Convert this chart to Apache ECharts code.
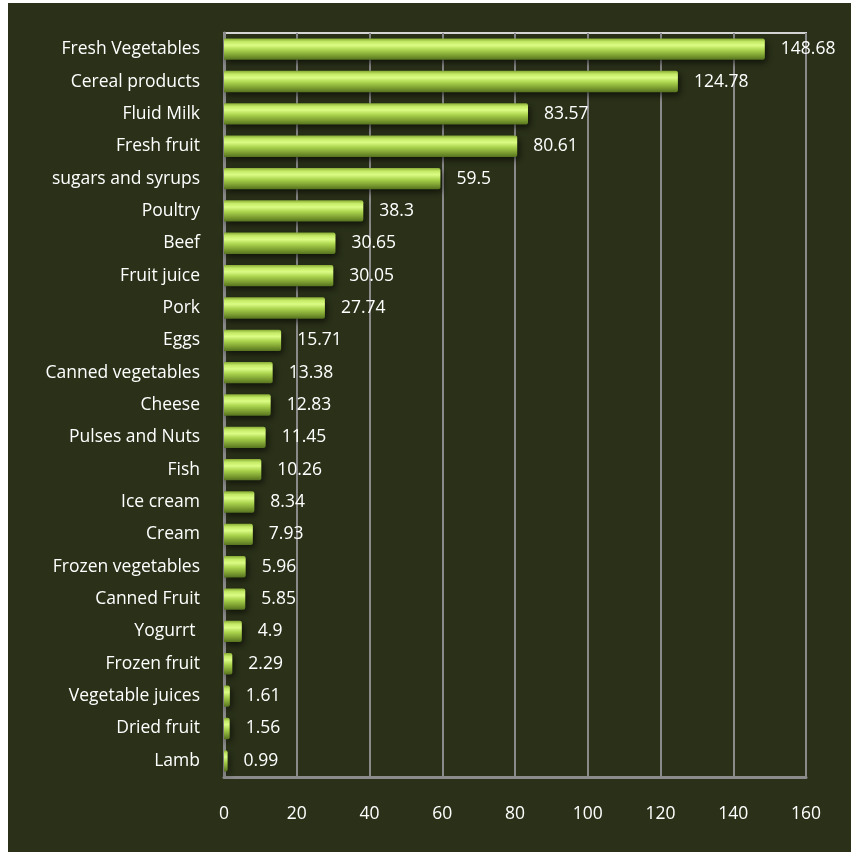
<!DOCTYPE html>
<html>
<head>
<meta charset="utf-8">
<style>
  html, body { margin: 0; padding: 0; background: #ffffff; }
  #chart { position: absolute; left: 8px; top: 3px; width: 843px; height: 849px; }
</style>
<script src="https://cdn.jsdelivr.net/npm/echarts@6/dist/echarts.min.js"></script>
</head>
<body>
<div id="chart"></div>
<script>
// Per-capita food consumption by category
const categories = [
  'Fresh Vegetables', 'Cereal products', 'Fluid Milk', 'Fresh fruit', 'sugars and syrups',
  'Poultry', 'Beef', 'Fruit juice', 'Pork', 'Eggs', 'Canned vegetables', 'Cheese',
  'Pulses and Nuts', 'Fish', 'Ice cream', 'Cream', 'Frozen vegetables', 'Canned Fruit',
  'Yogurrt ', 'Frozen fruit', 'Vegetable juices', 'Dried fruit', 'Lamb'
];
const values = [
  148.68, 124.78, 83.57, 80.61, 59.5,
  38.3, 30.65, 30.05, 27.74, 15.71, 13.38, 12.83,
  11.45, 10.26, 8.34, 7.93, 5.96, 5.85,
  4.9, 2.29, 1.61, 1.56, 0.99
];
const xTicks = { min: 0, max: 160, interval: 20 };

const chart = echarts.init(document.getElementById('chart'));
const font = '"Open Sans", "Liberation Sans", sans-serif';

chart.setOption({
  backgroundColor: '#2a3118',
  animation: false,
  grid: {
    left: 216, right: 45, top: 30, bottom: 75,
    show: true, borderColor: '#d4d4d4', borderWidth: 2, backgroundColor: 'transparent'
  },
  xAxis: {
    type: 'value',
    min: xTicks.min, max: xTicks.max, interval: xTicks.interval,
    axisLine: { show: true, lineStyle: { color: '#8c8c8c', width: 3 } },
    axisTick: { show: false },
    splitLine: { show: true, lineStyle: { color: '#8a8a8a', width: 2 } },
    axisLabel: { color: '#ffffff', fontSize: 17.5, fontFamily: font, margin: 28 }
  },
  yAxis: {
    type: 'category',
    data: categories,
    inverse: true,
    axisLine: { show: true, lineStyle: { color: '#8c8c8c', width: 3 } },
    axisTick: { show: false },
    splitLine: { show: false },
    axisLabel: { color: '#ffffff', fontSize: 17.5, fontFamily: font, margin: 24 }
  },
  series: [{
    type: 'bar',
    data: values,
    barWidth: '66%',
    itemStyle: {
      color: {
        type: 'linear', x: 0, y: 0, x2: 0, y2: 1,
        colorStops: [
          { offset: 0, color: '#86aa34' },
          { offset: 0.15, color: '#c4ea66' },
          { offset: 0.32, color: '#dbfc84' },
          { offset: 0.55, color: '#a9d24c' },
          { offset: 0.8, color: '#7c9e31' },
          { offset: 1, color: '#56721f' }
        ]
      },
      borderRadius: [0, 2, 2, 0],
      shadowColor: 'rgba(0,0,0,0.65)',
      shadowBlur: 7,
      shadowOffsetX: 2,
      shadowOffsetY: 3
    },
    label: {
      show: true,
      position: 'right',
      distance: 16,
      color: '#ffffff',
      fontSize: 17.5,
      fontFamily: font
    }
  }]
});
</script>
</body>
</html>
